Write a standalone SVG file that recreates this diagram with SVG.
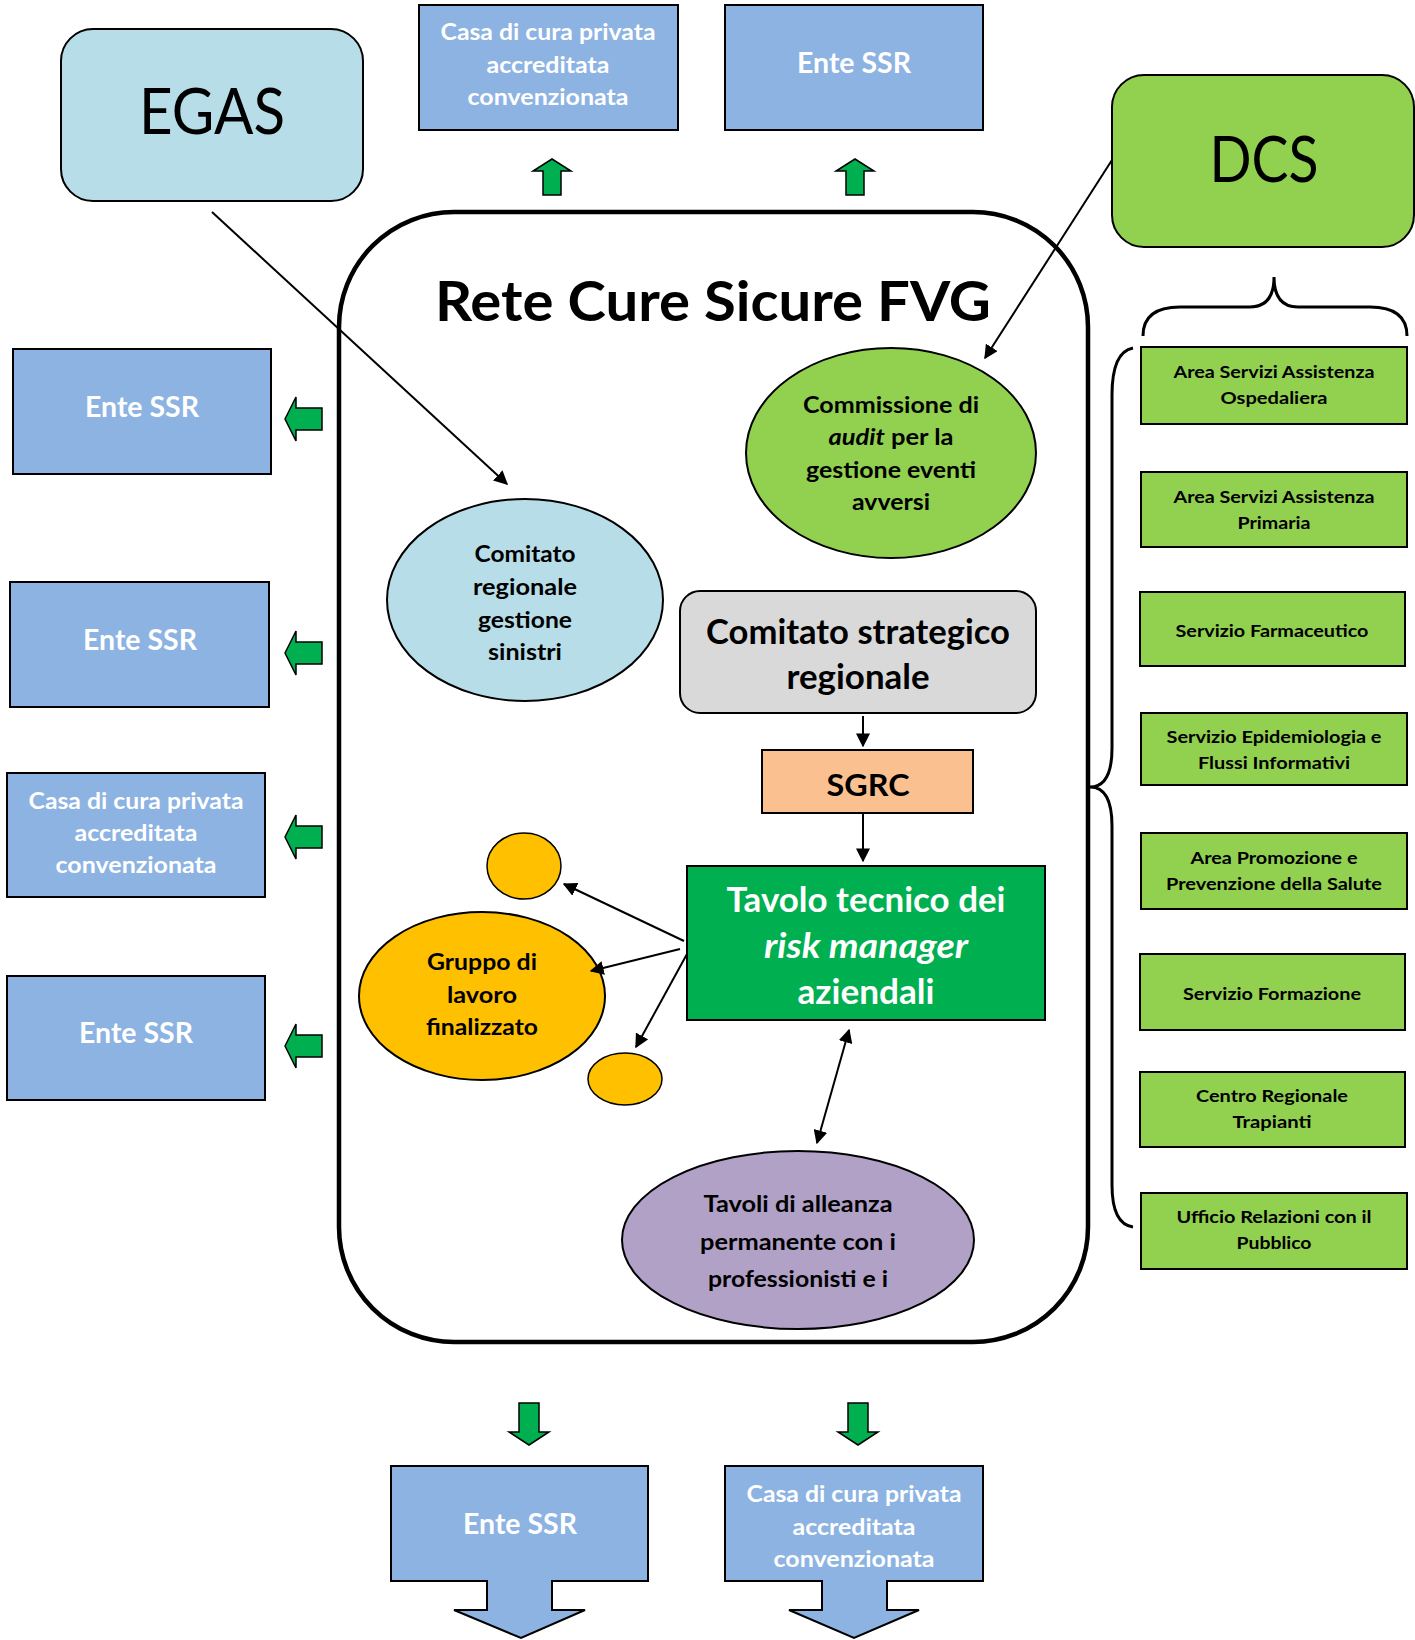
<svg xmlns="http://www.w3.org/2000/svg" width="1415" height="1640" viewBox="0 0 1415 1640">
<defs>
<style>
text{font-family:Lato,"Open Sans","Liberation Sans",sans-serif;text-anchor:middle;font-weight:bold;}
.blue{fill:#8db3e2;stroke:#000;stroke-width:2;}
.gr{fill:#92d050;stroke:#000;stroke-width:2;}
.ga{fill:#00b050;stroke:#000;stroke-width:1.5;}
.wt{fill:#fff;}
.bk{fill:#000;}
.big{font-weight:normal;font-size:64px;}
.s23{font-size:23px;}
.s28{font-size:28px;}
.s17{font-size:17.5px;}
.ln{stroke:#000;stroke-width:2;fill:none;}
</style>
<marker id="ahs" viewBox="0 0 10 10" refX="9" refY="5" markerWidth="14" markerHeight="14" orient="auto-start-reverse" markerUnits="userSpaceOnUse">
<path d="M0,0 L10,5 L0,10 Z" fill="#000"/>
</marker>
</defs>
<rect width="1415" height="1640" fill="#fff"/>

<g id="rete">
<rect x="339" y="212" width="749" height="1130" rx="115" ry="115" fill="#fff" stroke="#000" stroke-width="4.5"/>
<text x="713" y="321" font-size="56" textLength="556" lengthAdjust="spacingAndGlyphs" class="bk">Rete Cure Sicure FVG</text>
</g>

<g id="egas">
<rect x="61" y="29" width="302" height="172" rx="32" fill="#b7dde8" stroke="#000" stroke-width="2"/>
<text x="212" y="134" class="big bk" textLength="146" lengthAdjust="spacingAndGlyphs">EGAS</text>
</g>

<g id="dcs">
<rect x="1112" y="75" width="302" height="172" rx="32" fill="#92d050" stroke="#000" stroke-width="2"/>
<text x="1264" y="182" class="big bk" textLength="109" lengthAdjust="spacingAndGlyphs">DCS</text>
</g>

<g id="top-casa">
<rect class="blue" x="419" y="5" width="259" height="125"/>
<text class="wt s23" x="548" y="40" textLength="215" lengthAdjust="spacingAndGlyphs">Casa di cura privata</text>
<text class="wt s23" x="548" y="73" textLength="123" lengthAdjust="spacingAndGlyphs">accreditata</text>
<text class="wt s23" x="548" y="105" textLength="161" lengthAdjust="spacingAndGlyphs">convenzionata</text>
</g>
<g id="top-ente">
<rect class="blue" x="725" y="5" width="258" height="125"/>
<text class="wt s28" x="854" y="73" textLength="114" lengthAdjust="spacingAndGlyphs">Ente SSR</text>
</g>

<g id="left-ente-1">
<rect class="blue" x="13" y="349" width="258" height="125"/>
<text class="wt s28" x="142" y="417" textLength="114" lengthAdjust="spacingAndGlyphs">Ente SSR</text>
</g>
<g id="left-ente-2">
<rect class="blue" x="10" y="582" width="259" height="125"/>
<text class="wt s28" x="140" y="650" textLength="114" lengthAdjust="spacingAndGlyphs">Ente SSR</text>
</g>
<g id="left-casa">
<rect class="blue" x="7" y="773" width="258" height="124"/>
<text class="wt s23" x="136" y="809" textLength="215" lengthAdjust="spacingAndGlyphs">Casa di cura privata</text>
<text class="wt s23" x="136" y="841" textLength="123" lengthAdjust="spacingAndGlyphs">accreditata</text>
<text class="wt s23" x="136" y="873" textLength="161" lengthAdjust="spacingAndGlyphs">convenzionata</text>
</g>
<g id="left-ente-3">
<rect class="blue" x="7" y="976" width="258" height="124"/>
<text class="wt s28" x="136" y="1043" textLength="114" lengthAdjust="spacingAndGlyphs">Ente SSR</text>
</g>

<g id="bottom-ente">
<path class="blue" d="M391,1466 H648 V1581 H552 V1610 H585 L521,1638 L454,1610 H487 V1581 H391 Z"/>
<text class="wt s28" x="520" y="1534" textLength="114" lengthAdjust="spacingAndGlyphs">Ente SSR</text>
</g>
<g id="bottom-casa">
<path class="blue" d="M725,1466 H983 V1581 H887 V1610 H919 L854,1638 L789,1610 H822 V1581 H725 Z"/>
<text class="wt s23" x="854" y="1502" textLength="215" lengthAdjust="spacingAndGlyphs">Casa di cura privata</text>
<text class="wt s23" x="854" y="1535" textLength="123" lengthAdjust="spacingAndGlyphs">accreditata</text>
<text class="wt s23" x="854" y="1567" textLength="161" lengthAdjust="spacingAndGlyphs">convenzionata</text>
</g>

<g id="green-arrows">
<path class="ga" d="M552,159 L571,171 L561,171 L561,195 L543,195 L543,171 L533,171 Z"/>
<path class="ga" d="M855,159 L874,171 L864,171 L864,195 L846,195 L846,171 L836,171 Z"/>
<path class="ga" d="M285,419 L296,397 L296,408 L322,408 L322,430 L296,430 L296,441 Z"/>
<path class="ga" d="M285,653 L296,631 L296,642 L322,642 L322,664 L296,664 L296,675 Z"/>
<path class="ga" d="M285,837 L296,815 L296,826 L322,826 L322,848 L296,848 L296,859 Z"/>
<path class="ga" d="M285,1046 L296,1024 L296,1035 L322,1035 L322,1057 L296,1057 L296,1068 Z"/>
<path class="ga" d="M519,1403 L539,1403 L539,1432 L549,1432 L529,1445 L509,1432 L519,1432 Z"/>
<path class="ga" d="M848,1403 L868,1403 L868,1432 L878,1432 L858,1445 L838,1432 L848,1432 Z"/>
</g>

<g id="commissione">
<ellipse cx="891" cy="453" rx="145" ry="105" fill="#92d050" stroke="#000" stroke-width="2"/>
<text class="bk s23" x="891" y="413" textLength="176" lengthAdjust="spacingAndGlyphs">Commissione di</text>
<text class="bk s23" x="891" y="445" textLength="125" lengthAdjust="spacingAndGlyphs"><tspan font-style="italic">audit</tspan> per la</text>
<text class="bk s23" x="891" y="478" textLength="170" lengthAdjust="spacingAndGlyphs">gestione eventi</text>
<text class="bk s23" x="891" y="510" textLength="78" lengthAdjust="spacingAndGlyphs">avversi</text>
</g>

<g id="comitato-sinistri">
<ellipse cx="525" cy="600" rx="138" ry="101" fill="#b7dde8" stroke="#000" stroke-width="2"/>
<text class="bk s23" x="525" y="562" textLength="101" lengthAdjust="spacingAndGlyphs">Comitato</text>
<text class="bk s23" x="525" y="595" textLength="104" lengthAdjust="spacingAndGlyphs">regionale</text>
<text class="bk s23" x="525" y="628" textLength="94" lengthAdjust="spacingAndGlyphs">gestione</text>
<text class="bk s23" x="525" y="660" textLength="74" lengthAdjust="spacingAndGlyphs">sinistri</text>
</g>

<g id="comitato-strategico">
<rect x="680" y="591" width="356" height="122" rx="20" fill="#d9d9d9" stroke="#000" stroke-width="2"/>
<text class="bk" font-size="35" x="858" y="644" textLength="304" lengthAdjust="spacingAndGlyphs">Comitato strategico</text>
<text class="bk" font-size="35" x="858" y="689" textLength="143" lengthAdjust="spacingAndGlyphs">regionale</text>
</g>

<g id="sgrc">
<rect x="762" y="750" width="211" height="63" fill="#fac090" stroke="#000" stroke-width="2"/>
<text class="bk" font-size="31" x="868" y="796" textLength="83" lengthAdjust="spacingAndGlyphs">SGRC</text>
</g>

<g id="tavolo-tecnico">
<rect x="687" y="866" width="358" height="154" fill="#00b050" stroke="#000" stroke-width="2"/>
<text class="wt" font-size="34" x="866" y="912" textLength="279" lengthAdjust="spacingAndGlyphs">Tavolo tecnico dei</text>
<text class="wt" font-size="34" font-style="italic" x="866" y="958" textLength="204" lengthAdjust="spacingAndGlyphs">risk manager</text>
<text class="wt" font-size="34" x="866" y="1004" textLength="137" lengthAdjust="spacingAndGlyphs">aziendali</text>
</g>

<g id="gruppo-small-1">
<ellipse cx="524" cy="866" rx="37" ry="33" fill="#ffc000" stroke="#000" stroke-width="1.5"/>
</g>
<g id="gruppo">
<ellipse cx="482" cy="996" rx="123" ry="84" fill="#ffc000" stroke="#000" stroke-width="2"/>
<text class="bk s23" x="482" y="970" textLength="110" lengthAdjust="spacingAndGlyphs">Gruppo di</text>
<text class="bk s23" x="482" y="1003" textLength="70" lengthAdjust="spacingAndGlyphs">lavoro</text>
<text class="bk s23" x="482" y="1035" textLength="112" lengthAdjust="spacingAndGlyphs">finalizzato</text>
</g>
<g id="gruppo-small-2">
<ellipse cx="625" cy="1079" rx="37" ry="26" fill="#ffc000" stroke="#000" stroke-width="1.5"/>
</g>

<g id="tavoli-alleanza">
<ellipse cx="798" cy="1240" rx="176" ry="89" fill="#b2a1c7" stroke="#000" stroke-width="2"/>
<text class="bk s23" x="798" y="1212" textLength="189" lengthAdjust="spacingAndGlyphs">Tavoli di alleanza</text>
<text class="bk s23" x="798" y="1250" textLength="196" lengthAdjust="spacingAndGlyphs">permanente con i</text>
<text class="bk s23" x="798" y="1287" textLength="180" lengthAdjust="spacingAndGlyphs">professionisti e i</text>
</g>

<g id="dcs-services">
<rect class="gr" x="1141" y="347" width="266" height="77"/>
<text class="bk s17" x="1274" y="378" textLength="201" lengthAdjust="spacingAndGlyphs">Area Servizi Assistenza</text>
<text class="bk s17" x="1274" y="404" textLength="107" lengthAdjust="spacingAndGlyphs">Ospedaliera</text>
<rect class="gr" x="1141" y="472" width="266" height="75"/>
<text class="bk s17" x="1274" y="503" textLength="201" lengthAdjust="spacingAndGlyphs">Area Servizi Assistenza</text>
<text class="bk s17" x="1274" y="529" textLength="73" lengthAdjust="spacingAndGlyphs">Primaria</text>
<rect class="gr" x="1140" y="592" width="265" height="74"/>
<text class="bk s17" x="1272" y="637" textLength="193" lengthAdjust="spacingAndGlyphs">Servizio Farmaceutico</text>
<rect class="gr" x="1141" y="713" width="266" height="72"/>
<text class="bk s17" x="1274" y="743" textLength="215" lengthAdjust="spacingAndGlyphs">Servizio Epidemiologia e</text>
<text class="bk s17" x="1274" y="769" textLength="152" lengthAdjust="spacingAndGlyphs">Flussi Informativi</text>
<rect class="gr" x="1141" y="833" width="266" height="76"/>
<text class="bk s17" x="1274" y="864" textLength="167" lengthAdjust="spacingAndGlyphs">Area Promozione e</text>
<text class="bk s17" x="1274" y="890" textLength="216" lengthAdjust="spacingAndGlyphs">Prevenzione della Salute</text>
<rect class="gr" x="1140" y="954" width="265" height="76"/>
<text class="bk s17" x="1272" y="1000" textLength="178" lengthAdjust="spacingAndGlyphs">Servizio Formazione</text>
<rect class="gr" x="1140" y="1072" width="265" height="75"/>
<text class="bk s17" x="1272" y="1102" textLength="152" lengthAdjust="spacingAndGlyphs">Centro Regionale</text>
<text class="bk s17" x="1272" y="1128" textLength="79" lengthAdjust="spacingAndGlyphs">Trapianti</text>
<rect class="gr" x="1141" y="1193" width="266" height="76"/>
<text class="bk s17" x="1274" y="1223" textLength="195" lengthAdjust="spacingAndGlyphs">Ufficio Relazioni con il</text>
<text class="bk s17" x="1274" y="1249" textLength="75" lengthAdjust="spacingAndGlyphs">Pubblico</text>
</g>

<g id="braces">
<path d="M1143,336 Q1143,307 1180,307 L1250,307 Q1274,307 1274,277 Q1274,307 1298,307 L1370,307 Q1407,307 1407,336" fill="none" stroke="#000" stroke-width="3"/>
<path d="M1133,348 Q1112,352 1112,395 L1112,748 Q1112,787 1090,787 Q1112,787 1112,826 L1112,1185 Q1112,1224 1133,1227" fill="none" stroke="#000" stroke-width="3"/>
</g>

<g id="connectors">
<line class="ln" x1="212" y1="212" x2="507" y2="484" marker-end="url(#ahs)"/>
<line class="ln" x1="1112" y1="160" x2="985" y2="358" marker-end="url(#ahs)"/>
<line class="ln" x1="863" y1="716" x2="863" y2="746" marker-end="url(#ahs)"/>
<line class="ln" x1="863" y1="813" x2="863" y2="861" marker-end="url(#ahs)"/>
<line class="ln" x1="684" y1="941" x2="564" y2="884" marker-end="url(#ahs)"/>
<line class="ln" x1="680" y1="949" x2="591" y2="971" marker-end="url(#ahs)"/>
<line class="ln" x1="687" y1="954" x2="636" y2="1047" marker-end="url(#ahs)"/>
<line class="ln" x1="849" y1="1030" x2="817" y2="1143" marker-start="url(#ahs)" marker-end="url(#ahs)"/>
</g>
</svg>
